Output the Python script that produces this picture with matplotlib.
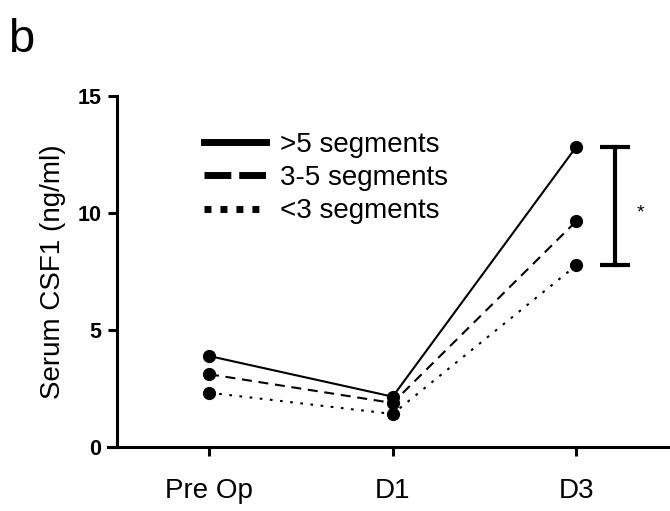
import matplotlib
matplotlib.use("Agg")
import matplotlib.pyplot as plt
from matplotlib.lines import Line2D

plt.rcParams['font.family'] = ['Liberation Sans', 'DejaVu Sans']

# Datos
timepoints = ["Pre Op", "D1", "D3"]
over5 = [3.88, 2.14, 12.83]
mid3to5 = [3.10, 1.87, 9.65]
under3 = [2.31, 1.40, 7.76]
series_labels = [">5 segments", "3-5 segments", "<3 segments"]
y_ticks = [0, 5, 10, 15]

fig = plt.figure(figsize=(6.7, 5.11), dpi=100)
ax = fig.add_axes([108 / 670, 1 - 446.7 / 511, 1 - 108 / 670, (446.7 - 96) / 511])

x = list(range(len(timepoints)))
styles = [(over5, "-"), (mid3to5, (0, (4.8, 3.2))), (under3, (0, (1.3, 3.6)))]
for vals, ls in styles:
    ax.plot(x, vals, color="black", linestyle=ls, lw=1.5,
            marker="o", markersize=9.5, markeredgewidth=0, clip_on=False)

# barra de significancia en D3
xb = 2.21
ax.plot([xb, xb], [under3[2], over5[2]], color="black", lw=3, clip_on=False)
for yv in (under3[2], over5[2]):
    ax.plot([xb - 0.082, xb + 0.082], [yv, yv], color="black", lw=3,
            solid_capstyle="butt", clip_on=False)
ax.text(2.35, 10.0, "*", fontsize=14, ha="center", va="center")

ax.spines["top"].set_visible(False)
ax.spines["right"].set_visible(False)
ax.spines["left"].set_position(("data", -0.5))
for s in ("left", "bottom"):
    ax.spines[s].set_linewidth(2.2)
ax.tick_params(axis="both", direction="out", length=6.5, width=2.2, colors="black")
ax.tick_params(axis="x", pad=16, labelsize=20)
ax.tick_params(axis="y", pad=5, labelsize=15.5)

ax.set_xlim(-0.55, 2.51)
ax.set_ylim(0, 15)
ax.set_xticks(x)
ax.set_xticklabels(timepoints)
ax.set_yticks(y_ticks)
ax.set_yticklabels([str(t) for t in y_ticks], fontweight="bold")
ax.set_ylabel("Serum CSF1 (ng/ml)", fontsize=20, labelpad=8)

handles = [
    Line2D([], [], color="black", lw=5, linestyle="-"),
    Line2D([], [], color="black", lw=5, linestyle=(0, (3.86, 1.14))),
    Line2D([], [], color="black", lw=5, linestyle=(0, (1.0, 1.3))),
]
ax.legend(handles, series_labels, fontsize=20, frameon=False,
          loc="upper left", bbox_to_anchor=(0.171, 0.897),
          borderpad=0, borderaxespad=0,
          handlelength=2.23, handletextpad=0.52, labelspacing=0.255)

fig.text(8 / 670, 1 - 52 / 511, "b", fontsize=34, ha="left", va="baseline")

fig.savefig("out.png", dpi=100)
